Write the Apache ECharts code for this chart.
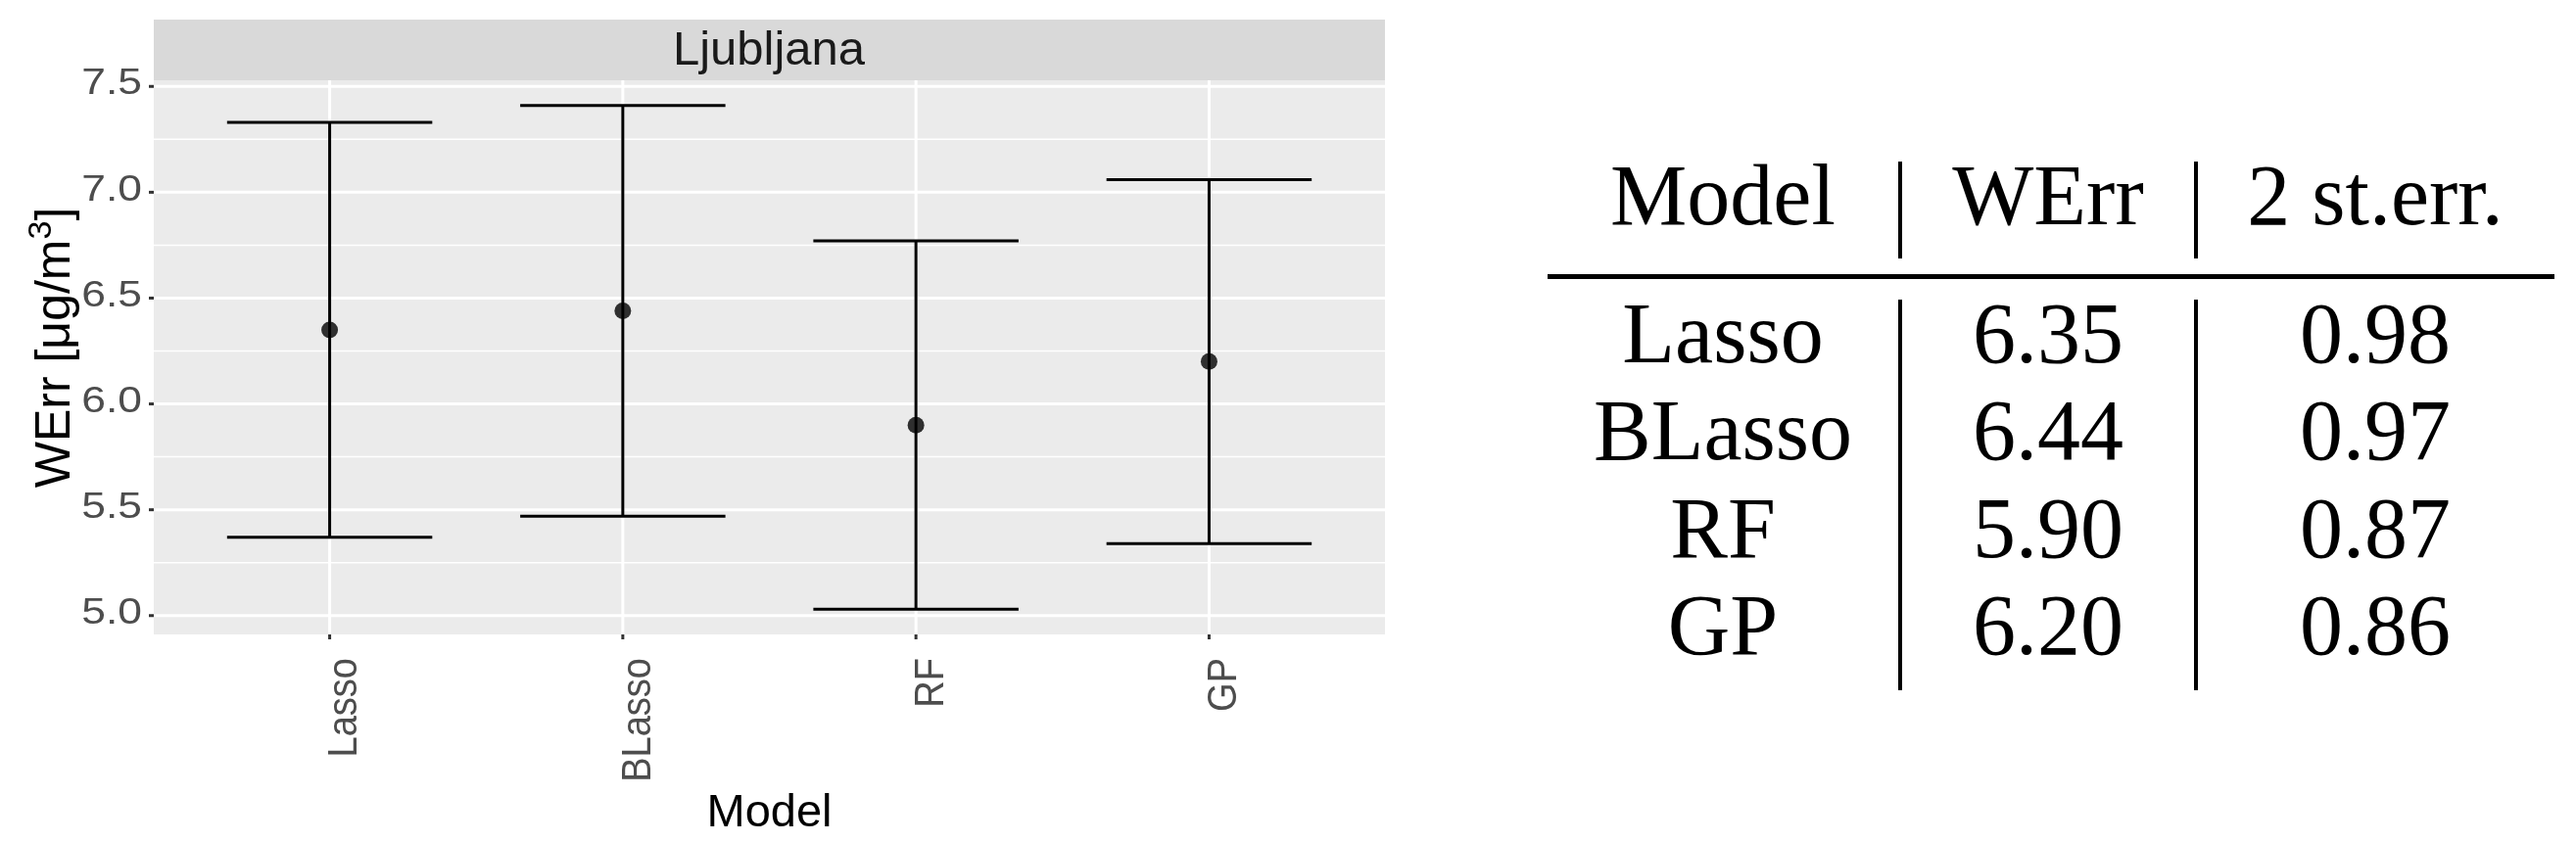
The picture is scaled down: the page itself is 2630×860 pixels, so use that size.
<!DOCTYPE html>
<html>
<head>
<meta charset="utf-8">
<script src="https://cdn.jsdelivr.net/npm/echarts@6.0.0/dist/echarts.min.js"></script>
<style>
html, body { margin: 0; padding: 0; background: #fff; }
#main { width: 2630px; height: 860px; }
</style>
</head>
<body>
<div id="main"></div>
<script>
var models = ['Lasso', 'BLasso', 'RF', 'GP'];
var werr = [6.35, 6.44, 5.90, 6.20];
var stErr2 = [0.98, 0.97, 0.87, 0.86];
var yTicks = [5.0, 5.5, 6.0, 6.5, 7.0, 7.5];
var yMinor = [5.25, 5.75, 6.25, 6.75, 7.25];
var tableHead = ['Model', 'WErr', '2 st.err.'];
var stripLabel = 'Ljubljana';

var sans = 'Liberation Sans, Arial, sans-serif';
var serif = 'Liberation Serif, Times New Roman, serif';

var chartDom = document.getElementById('main');
var myChart = echarts.init(chartDom);

// grid lines, ticks, tick labels and y title (ggplot look), placed with api.coord
function renderPanel(params, api) {
  var cs = params.coordSys;
  var left = cs.x, right = cs.x + cs.width, top = cs.y, bottom = cs.y + cs.height;
  var kids = [];
  yMinor.forEach(function (v) {
    var y = api.coord([1, v])[1];
    kids.push({ type: 'line', shape: { x1: left, y1: y, x2: right, y2: y }, style: { stroke: '#fff', lineWidth: 1.5 } });
  });
  yTicks.forEach(function (v) {
    var y = api.coord([1, v])[1];
    kids.push({ type: 'line', shape: { x1: left, y1: y, x2: right, y2: y }, style: { stroke: '#fff', lineWidth: 3 } });
    kids.push({ type: 'line', shape: { x1: left - 5, y1: y, x2: left, y2: y }, style: { stroke: '#333', lineWidth: 3 } });
    kids.push({ type: 'text', x: left - 12, y: y - 2, scaleX: 1.2,
      style: { text: v.toFixed(1), align: 'right', verticalAlign: 'middle', fill: '#4D4D4D', fontSize: 37, fontFamily: sans } });
  });
  models.forEach(function (m, i) {
    var x = api.coord([i + 1, 6])[0];
    kids.push({ type: 'line', shape: { x1: x, y1: top, x2: x, y2: bottom }, style: { stroke: '#fff', lineWidth: 3 } });
    kids.push({ type: 'line', shape: { x1: x, y1: bottom, x2: x, y2: bottom + 5 }, style: { stroke: '#333', lineWidth: 3 } });
    kids.push({ type: 'text', x: x + 16, y: bottom + 24, rotation: Math.PI / 2, scaleY: 1.12,
      style: { text: m, align: 'right', verticalAlign: 'middle', fill: '#4D4D4D', fontSize: 38, fontFamily: sans } });
  });
  kids.push({ type: 'text', x: left - 100, y: top + cs.height / 2 - 10, rotation: Math.PI / 2,
    style: {
      text: 'WErr [μg/m{sup|3}]', align: 'center', verticalAlign: 'middle',
      fill: '#000', fontSize: 50, fontFamily: sans, lineHeight: 62,
      rich: { sup: { fontSize: 34, fontFamily: sans, fill: '#000', verticalAlign: 'top' } }
    } });
  return { type: 'group', children: kids };
}

function renderErr(params, api) {
  var i = api.value(0);
  var hi = api.coord([i, api.value(2)]);
  var lo = api.coord([i, api.value(1)]);
  var hw = api.size([0.35, 0])[0];
  var st = { stroke: '#000', lineWidth: 3 };
  return {
    type: 'group',
    children: [
      { type: 'line', shape: { x1: hi[0], y1: hi[1], x2: lo[0], y2: lo[1] }, style: st },
      { type: 'line', shape: { x1: hi[0] - hw, y1: hi[1], x2: hi[0] + hw, y2: hi[1] }, style: st },
      { type: 'line', shape: { x1: lo[0] - hw, y1: lo[1], x2: lo[0] + hw, y2: lo[1] }, style: st }
    ]
  };
}

var errData = models.map(function (m, i) { return [i + 1, werr[i] - stErr2[i], werr[i] + stErr2[i]]; });
var pointData = models.map(function (m, i) { return [i + 1, werr[i]]; });

// table on the right
var colX = [1759, 2091, 2425];
var headY = 206;
var rowY = [347, 446, 546, 645];
var tableFont = '88px ' + serif;
var graphics = [
  { type: 'rect', shape: { x: 157, y: 20, width: 1257, height: 62 }, style: { fill: '#D9D9D9' }, z: 0 },
  { type: 'text', x: 785, y: 52, style: { text: stripLabel, font: '49px ' + sans, fill: '#1A1A1A', align: 'center', verticalAlign: 'middle' } },
  { type: 'rect', shape: { x: 1580, y: 280, width: 1028, height: 5 }, style: { fill: '#000' } }
];
[1940, 2242].forEach(function (x) {
  graphics.push({ type: 'rect', shape: { x: x - 2, y: 165, width: 4, height: 99 }, style: { fill: '#000' } });
  graphics.push({ type: 'rect', shape: { x: x - 2, y: 306, width: 4, height: 399 }, style: { fill: '#000' } });
});
tableHead.forEach(function (h, c) {
  graphics.push({ type: 'text', x: colX[c], y: headY, style: { text: h, font: tableFont, fill: '#000', align: 'center', verticalAlign: 'middle' } });
});
models.forEach(function (m, i) {
  var cells = [m, werr[i].toFixed(2), stErr2[i].toFixed(2)];
  cells.forEach(function (t, c) {
    graphics.push({ type: 'text', x: colX[c], y: rowY[i], style: { text: t, font: tableFont, fill: '#000', align: 'center', verticalAlign: 'middle' } });
  });
});

var option = {
  animation: false,
  backgroundColor: '#fff',
  grid: { left: 157, top: 82, width: 1257, height: 578, show: true, backgroundColor: '#EBEBEB', borderWidth: 0 },
  xAxis: {
    type: 'value', min: 0.4, max: 4.6,
    axisLine: { show: false }, axisTick: { show: false }, axisLabel: { show: false }, splitLine: { show: false },
    name: 'Model', nameLocation: 'middle', nameGap: 160,
    nameTextStyle: { fontSize: 47, color: '#000', fontFamily: sans }
  },
  yAxis: {
    type: 'value', min: 4.911, max: 7.529,
    axisLine: { show: false }, axisTick: { show: false }, axisLabel: { show: false }, splitLine: { show: false }
  },
  graphic: graphics,
  series: [
    { type: 'custom', name: 'panel', data: [[1, 6]], renderItem: renderPanel, z: 1, silent: true },
    { type: 'custom', name: 'errbar', data: errData, renderItem: renderErr, encode: { x: 0, y: [1, 2] }, z: 2 },
    { type: 'scatter', name: 'WErr', data: pointData, symbolSize: 17, itemStyle: { color: '#000' }, z: 3 }
  ]
};

option && myChart.setOption(option);
</script>
</body>
</html>
